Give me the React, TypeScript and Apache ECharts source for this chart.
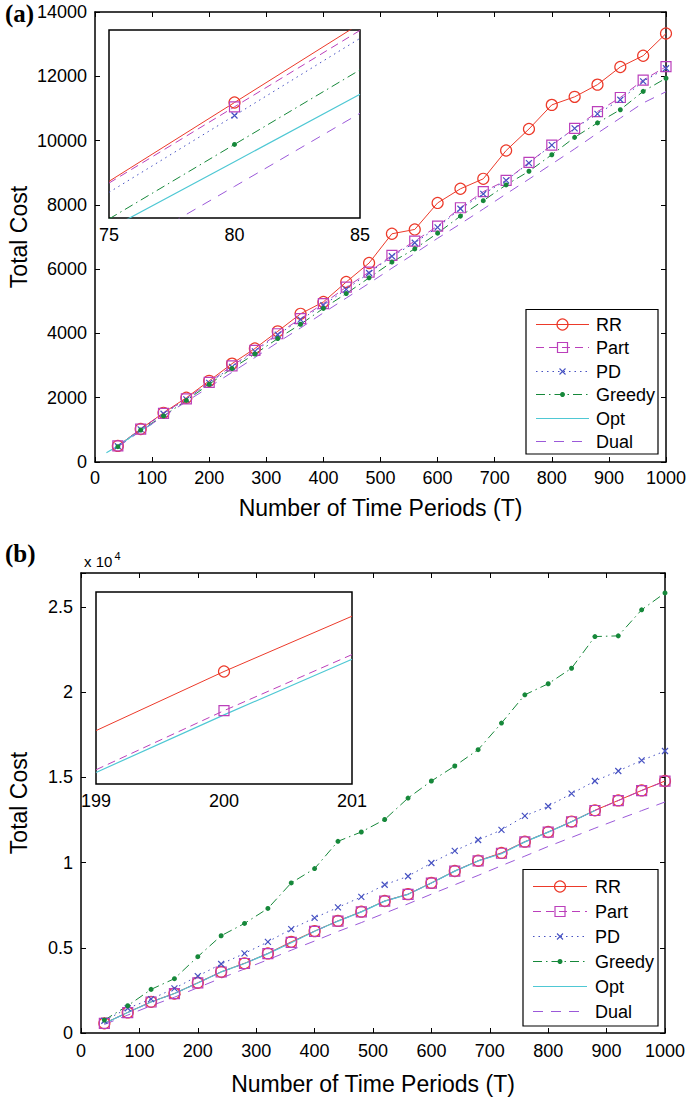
import React, { useEffect, useRef } from "react";
import * as echarts from "echarts";

// ---------- data ----------
const T = [40, 80, 120, 160, 200, 240, 280, 320, 360, 400, 440, 480, 520, 560, 600, 640, 680, 720, 760, 800, 840, 880, 920, 960, 1000];

// panel (a)
const rrA = [500, 1026, 1530, 2000, 2525, 3060, 3530, 4065, 4610, 4980, 5600, 6190, 7100, 7235, 8060, 8500, 8810, 9690, 10360, 11110, 11360, 11740, 12290, 12640, 13330];
const partA = [500, 1023, 1515, 1965, 2480, 2990, 3470, 3990, 4460, 4930, 5440, 5910, 6430, 6870, 7340, 7910, 8410, 8760, 9320, 9860, 10380, 10900, 11340, 11880, 12300];
const pdA = [490, 1016, 1500, 1950, 2460, 2960, 3440, 3960, 4430, 4880, 5370, 5880, 6400, 6820, 7300, 7880, 8340, 8760, 9300, 9860, 10380, 10830, 11270, 11840, 12250];
const greedyA = [476, 995, 1430, 1915, 2420, 2910, 3360, 3840, 4285, 4780, 5240, 5730, 6220, 6630, 7120, 7650, 8130, 8620, 9045, 9560, 10100, 10550, 10960, 11530, 11940];
const optTA = [20, 40, 60, 80, 100];
const optA = [290, 500, 745, 982, 1183];
const dualA = [470, 964, 1420, 1880, 2330, 2790, 3250, 3720, 4170, 4640, 5100, 5560, 6030, 6490, 6960, 7410, 7870, 8340, 8800, 9270, 9740, 10230, 10700, 11170, 11520];

// inset of (a)
const insetTA = [75, 80, 85];
const rrInsA = [967.3, 1026, 1084.7];
const partInsA = [966, 1022.8, 1079.7];
const pdInsA = [959.1, 1016.3, 1073.8];
const greedyInsA = [939.3, 994.8, 1050.3];
const optInsA = [931.8, 981.9, 1032.2];
const dualInsA = [909.3, 963.5, 1018];

// panel (b)
const rrB = [570, 1210, 1830, 2320, 2950, 3590, 4090, 4670, 5350, 5980, 6580, 7120, 7750, 8150, 8810, 9510, 10110, 10570, 11230, 11800, 12410, 13070, 13650, 14240, 14790];
const partB = [565, 1200, 1820, 2310, 2940, 3580, 4080, 4660, 5320, 5970, 6570, 7110, 7740, 8140, 8800, 9500, 10100, 10550, 11220, 11790, 12400, 13060, 13640, 14230, 14780];
const pdB = [720, 1450, 1990, 2620, 3340, 4050, 4670, 5350, 6100, 6760, 7370, 7990, 8700, 9200, 9980, 10690, 11330, 11920, 12740, 13310, 14050, 14790, 15380, 16000, 16550];
const greedyB = [760, 1600, 2560, 3190, 4480, 5710, 6430, 7310, 8810, 9650, 11250, 11800, 12530, 13790, 14790, 15670, 16630, 18190, 19850, 20500, 21410, 23270, 23310, 24840, 25830];
const optTB = [40, 80, 120, 160, 200, 240, 280, 320, 360, 400, 440, 480, 520, 560, 600, 640, 680, 720, 760, 800, 840, 880];
const optB = [560, 1205, 1820, 2315, 2938, 3585, 4080, 4660, 5300, 5970, 6570, 7110, 7740, 8140, 8800, 9500, 10100, 10520, 11220, 11790, 12400, 13060];
const dualB = [500, 1050, 1600, 2100, 2660, 3220, 3760, 4300, 4860, 5400, 5960, 6480, 7030, 7580, 8150, 8700, 9250, 9820, 10380, 10950, 11480, 12020, 12540, 13050, 13560];

// inset of (b)
const insetTB = [199, 200, 201];
const rrInsB = [2933.9, 2949.3, 2963.7];
const partInsB = [2923.7, 2939.1, 2953.7];
const optInsB = [2923.0, 2938.0, 2952.5];

const NAMES = ["RR", "Part", "PD", "Greedy", "Opt", "Dual"];

// ---------- styles ----------
const FONT = '"Liberation Sans", Arial, Helvetica, sans-serif';
const STY: Record<string, any> = {
  RR: { color: "#ec3a2a", dash: "solid", symbol: "circle", size: 11, hollow: true, width: 1 },
  Part: { color: "#bb3fbb", dash: [8, 5], symbol: "rect", size: 10, hollow: true, width: 1 },
  PD: { color: "#4651c2", dash: [1.5, 4], symbol: "path://M0 0L10 10M10 0L0 10", size: 6, hollow: true, width: 1 },
  Greedy: { color: "#16883a", dash: [9, 4, 1.5, 4], symbol: "circle", size: 5, hollow: false, width: 1 },
  Opt: { color: "#4fc8d4", dash: "solid", symbol: "none", size: 0, hollow: false, width: 1.2 },
  Dual: { color: "#9b59d9", dash: [10, 8], symbol: "none", size: 0, hollow: false, width: 1 },
};

function series(name: string, xs: number[], ys: number[], xi: number, yi: number, markerX?: number) {
  const s = STY[name];
  const data = xs.map((x, i) =>
    markerX === undefined || x === markerX ? [x, ys[i]] : { value: [x, ys[i]], symbol: "none" }
  );
  return {
    type: "line",
    name,
    xAxisIndex: xi,
    yAxisIndex: yi,
    data,
    symbol: s.symbol,
    symbolSize: s.size,
    showSymbol: s.symbol !== "none",
    showAllSymbol: true,
    clip: true,
    silent: true,
    lineStyle: { color: s.color, width: s.width, type: s.dash },
    itemStyle: s.hollow
      ? { color: "none", borderColor: s.color, borderWidth: 1.2 }
      : { color: s.color, borderWidth: 0 },
    emphasis: { disabled: true },
  };
}

const lineBlack = { show: true, onZero: false, lineStyle: { color: "#000", width: 1.5 } };
const tickIn = { show: true, inside: true, length: 5, lineStyle: { color: "#000", width: 1 } };
const labelFont = { fontFamily: FONT, fontSize: 18, color: "#000" };
const nameFont = { fontFamily: FONT, fontSize: 23, color: "#000" };
const plain = (v: number) => String(v);

function mainX(grid: number, max: number, gap: number, margin: number) {
  return [
    {
      gridIndex: grid, type: "value", min: 0, max, interval: 100, position: "bottom",
      axisLine: lineBlack, axisTick: tickIn, axisLabel: { ...labelFont, margin, formatter: plain },
      splitLine: { show: false },
      name: "Number of Time Periods (T)", nameLocation: "middle", nameGap: gap, nameTextStyle: nameFont,
      nameMoveOverlap: false,
    },
    {
      gridIndex: grid, type: "value", min: 0, max, interval: 100, position: "top",
      axisLine: lineBlack, axisTick: tickIn, axisLabel: { show: false }, splitLine: { show: false },
    },
  ];
}

function mainY(grid: number, max: number, interval: number, gap: number, fmt: (v: number) => string) {
  return [
    {
      gridIndex: grid, type: "value", min: 0, max, interval, position: "left",
      axisLine: lineBlack, axisTick: tickIn,
      axisLabel: { ...labelFont, margin: 8, formatter: fmt },
      splitLine: { show: false },
      name: "Total Cost", nameLocation: "middle", nameGap: gap, nameTextStyle: nameFont,
      nameMoveOverlap: false,
    },
    {
      gridIndex: grid, type: "value", min: 0, max, interval, position: "right",
      axisLine: lineBlack, axisTick: tickIn, axisLabel: { show: false }, splitLine: { show: false },
    },
  ];
}

function insetX(grid: number, min: number, max: number, interval: number) {
  return {
    gridIndex: grid, type: "value", min, max, interval, position: "bottom",
    axisLine: { show: false }, axisTick: { show: false },
    axisLabel: { ...labelFont, margin: 8, formatter: plain }, splitLine: { show: false },
  };
}
function insetY(grid: number, min: number, max: number) {
  return {
    gridIndex: grid, type: "value", min, max, show: false,
    axisLine: { show: false }, axisTick: { show: false }, axisLabel: { show: false }, splitLine: { show: false },
  };
}

function legend(bx: number, by: number, bw: number, bh: number, y0: number, gap: number, lx1: number, lx2: number, mx: number, tx: number) {
  const els: any[] = [
    { type: "rect", z: 100, shape: { x: bx, y: by, width: bw, height: bh }, style: { fill: "#fff", stroke: "#000", lineWidth: 1.2 } },
  ];
  NAMES.forEach((n, i) => {
    const s = STY[n];
    const y = Math.round(y0 + i * gap) + 0.5;
    els.push({
      type: "line", z: 101, shape: { x1: lx1, y1: y, x2: lx2, y2: y },
      style: { stroke: s.color, lineWidth: 1.2, lineDash: s.dash === "solid" ? null : s.dash },
    });
    if (n === "RR") {
      els.push({ type: "circle", z: 102, shape: { cx: mx, cy: y, r: 5.5 }, style: { fill: "none", stroke: s.color, lineWidth: 1.2 } });
    } else if (n === "Part") {
      els.push({ type: "rect", z: 102, shape: { x: mx - 5, y: y - 5, width: 10, height: 10 }, style: { fill: "none", stroke: s.color, lineWidth: 1.2 } });
    } else if (n === "PD") {
      els.push({ type: "line", z: 102, shape: { x1: mx - 3, y1: y - 3, x2: mx + 3, y2: y + 3 }, style: { stroke: s.color, lineWidth: 1.1 } });
      els.push({ type: "line", z: 102, shape: { x1: mx - 3, y1: y + 3, x2: mx + 3, y2: y - 3 }, style: { stroke: s.color, lineWidth: 1.1 } });
    } else if (n === "Greedy") {
      els.push({ type: "circle", z: 102, shape: { cx: mx, cy: y, r: 2.5 }, style: { fill: s.color } });
    }
    els.push({
      type: "text", z: 102, x: tx, y,
      style: { text: n, fontFamily: FONT, fontSize: 18, fill: "#000", verticalAlign: "middle", align: "left" },
    });
  });
  return els;
}

function buildOption() {
  const fmtB = (v: number) => (v % 5000 === 0 ? String(v / 10000) : "");
  return {
    animation: false,
    backgroundColor: "#fff",
    grid: [
      { left: 95, top: 12, width: 571, height: 450, show: false, outerBoundsMode: "none" },
      { left: 109, top: 30, width: 251, height: 188, show: true, backgroundColor: "#fff", borderColor: "#000", borderWidth: 1.5, z: 3, outerBoundsMode: "none" },
      { left: 81, top: 573, width: 584, height: 460, show: false, outerBoundsMode: "none" },
      { left: 96, top: 592, width: 256, height: 192, show: true, backgroundColor: "#fff", borderColor: "#000", borderWidth: 1.5, z: 3, outerBoundsMode: "none" },
    ],
    xAxis: [
      ...mainX(0, 1000, 34, 7),
      insetX(1, 75, 85, 5),
      ...mainX(2, 1000, 39, 9),
      insetX(3, 199, 201, 1),
    ],
    yAxis: [
      ...mainY(0, 14000, 2000, 65, plain),
      insetY(1, 940, 1080),
      ...mainY(2, 27000, 5000, 51, fmtB),
      insetY(3, 2920, 2970),
    ],
    series: [
      // (a) main
      series("RR", T, rrA, 0, 0),
      series("Part", T, partA, 0, 0),
      series("PD", T, pdA, 0, 0),
      series("Greedy", T, greedyA, 0, 0),
      series("Opt", optTA, optA, 0, 0),
      series("Dual", T, dualA, 0, 0),
      // (a) inset
      series("RR", insetTA, rrInsA, 2, 2, 80),
      series("Part", insetTA, partInsA, 2, 2, 80),
      series("PD", insetTA, pdInsA, 2, 2, 80),
      series("Greedy", insetTA, greedyInsA, 2, 2, 80),
      series("Opt", insetTA, optInsA, 2, 2, 80),
      series("Dual", insetTA, dualInsA, 2, 2, 80),
      // (b) main
      series("RR", T, rrB, 3, 3),
      series("Part", T, partB, 3, 3),
      series("PD", T, pdB, 3, 3),
      series("Greedy", T, greedyB, 3, 3),
      series("Opt", optTB, optB, 3, 3),
      series("Dual", T, dualB, 3, 3),
      // (b) inset
      series("RR", insetTB, rrInsB, 5, 5, 200),
      series("Part", insetTB, partInsB, 5, 5, 200),
      series("Opt", insetTB, optInsB, 5, 5, 200),
    ],
    graphic: [
      { type: "text", x: 5, y: 13, style: { text: "(a)", fontFamily: '"Liberation Serif", "Times New Roman", serif', fontWeight: "bold", fontSize: 25, fill: "#000", verticalAlign: "middle" } },
      { type: "text", x: 5, y: 553, style: { text: "(b)", fontFamily: '"Liberation Serif", "Times New Roman", serif', fontWeight: "bold", fontSize: 25, fill: "#000", verticalAlign: "middle" } },
      { type: "text", x: 84, y: 561, style: { text: "x 10", fontFamily: FONT, fontSize: 15, fill: "#000", verticalAlign: "middle" } },
      { type: "text", x: 114.5, y: 556, style: { text: "4", fontFamily: FONT, fontSize: 11, fill: "#000", verticalAlign: "middle" } },
      ...legend(526, 309.5, 132, 144.5, 324, 23.4, 536, 589, 562.5, 596),
      ...legend(523, 869.5, 135, 156.5, 886, 24.9, 533, 587, 560, 595),
    ],
  };
}

export default function App() {
  const ref = useRef<HTMLDivElement>(null);
  useEffect(() => {
    const chart = echarts.init(ref.current as HTMLDivElement, null, { renderer: "svg" });
    chart.setOption(buildOption() as any);
    return () => chart.dispose();
  }, []);
  return (
    <div
      ref={ref}
      style={{ position: "absolute", left: 0, top: 0, width: 688, height: 1099, background: "#fff" }}
    />
  );
}
